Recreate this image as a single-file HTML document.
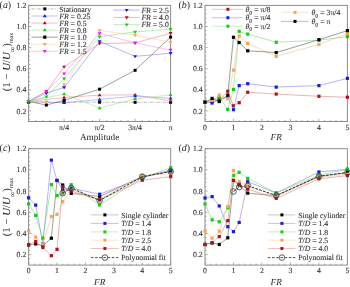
<!DOCTYPE html><html><head><meta charset="utf-8"><style>html,body{margin:0;padding:0;background:#fff;width:350px;height:287px;overflow:hidden}svg{display:block}.t,.a,.p,.yl{filter:grayscale(1);text-rendering:geometricPrecision}.t{font-family:"Liberation Serif",serif;font-size:7.75px;fill:#333;stroke:#333;stroke-width:0.12px}.a{font-family:"Liberation Serif",serif;font-size:9.2px;fill:#1e1e1e}.i{font-style:italic}.p{font-family:"Liberation Serif",serif;font-size:9.9px;fill:#1e1e1e}.yl{font-family:"Liberation Serif",serif;font-size:10.8px;fill:#262626}</style></head><body>
<svg width="350" height="287" viewBox="0 0 350 287">
<line x1="28.60" y1="119.39" x2="30.10" y2="119.39" stroke="#8c8c8c" stroke-width="0.7"/>
<line x1="28.60" y1="115.17" x2="30.10" y2="115.17" stroke="#8c8c8c" stroke-width="0.7"/>
<line x1="28.60" y1="110.95" x2="31.20" y2="110.95" stroke="#8c8c8c" stroke-width="0.7"/>
<line x1="28.60" y1="106.72" x2="30.10" y2="106.72" stroke="#8c8c8c" stroke-width="0.7"/>
<line x1="28.60" y1="102.50" x2="30.10" y2="102.50" stroke="#8c8c8c" stroke-width="0.7"/>
<line x1="28.60" y1="98.28" x2="30.10" y2="98.28" stroke="#8c8c8c" stroke-width="0.7"/>
<line x1="28.60" y1="94.06" x2="30.10" y2="94.06" stroke="#8c8c8c" stroke-width="0.7"/>
<line x1="28.60" y1="89.84" x2="31.20" y2="89.84" stroke="#8c8c8c" stroke-width="0.7"/>
<line x1="28.60" y1="85.61" x2="30.10" y2="85.61" stroke="#8c8c8c" stroke-width="0.7"/>
<line x1="28.60" y1="81.39" x2="30.10" y2="81.39" stroke="#8c8c8c" stroke-width="0.7"/>
<line x1="28.60" y1="77.17" x2="30.10" y2="77.17" stroke="#8c8c8c" stroke-width="0.7"/>
<line x1="28.60" y1="72.95" x2="30.10" y2="72.95" stroke="#8c8c8c" stroke-width="0.7"/>
<line x1="28.60" y1="68.73" x2="31.20" y2="68.73" stroke="#8c8c8c" stroke-width="0.7"/>
<line x1="28.60" y1="64.51" x2="30.10" y2="64.51" stroke="#8c8c8c" stroke-width="0.7"/>
<line x1="28.60" y1="60.28" x2="30.10" y2="60.28" stroke="#8c8c8c" stroke-width="0.7"/>
<line x1="28.60" y1="56.06" x2="30.10" y2="56.06" stroke="#8c8c8c" stroke-width="0.7"/>
<line x1="28.60" y1="51.84" x2="30.10" y2="51.84" stroke="#8c8c8c" stroke-width="0.7"/>
<line x1="28.60" y1="47.62" x2="31.20" y2="47.62" stroke="#8c8c8c" stroke-width="0.7"/>
<line x1="28.60" y1="43.40" x2="30.10" y2="43.40" stroke="#8c8c8c" stroke-width="0.7"/>
<line x1="28.60" y1="39.17" x2="30.10" y2="39.17" stroke="#8c8c8c" stroke-width="0.7"/>
<line x1="28.60" y1="34.95" x2="30.10" y2="34.95" stroke="#8c8c8c" stroke-width="0.7"/>
<line x1="28.60" y1="30.73" x2="30.10" y2="30.73" stroke="#8c8c8c" stroke-width="0.7"/>
<line x1="28.60" y1="26.51" x2="31.20" y2="26.51" stroke="#8c8c8c" stroke-width="0.7"/>
<line x1="28.60" y1="22.29" x2="30.10" y2="22.29" stroke="#8c8c8c" stroke-width="0.7"/>
<line x1="28.60" y1="18.07" x2="30.10" y2="18.07" stroke="#8c8c8c" stroke-width="0.7"/>
<line x1="28.60" y1="13.84" x2="30.10" y2="13.84" stroke="#8c8c8c" stroke-width="0.7"/>
<line x1="28.60" y1="9.62" x2="30.10" y2="9.62" stroke="#8c8c8c" stroke-width="0.7"/>
<line x1="28.60" y1="5.40" x2="31.20" y2="5.40" stroke="#8c8c8c" stroke-width="0.7"/>
<text x="26.30" y="113.55" text-anchor="end" class="t">0.2</text>
<text x="26.30" y="92.44" text-anchor="end" class="t">0.4</text>
<text x="26.30" y="71.33" text-anchor="end" class="t">0.6</text>
<text x="26.30" y="50.22" text-anchor="end" class="t">0.8</text>
<text x="26.30" y="29.11" text-anchor="end" class="t">1.0</text>
<text x="26.30" y="8.00" text-anchor="end" class="t">1.2</text>
<line x1="35.70" y1="121.50" x2="35.70" y2="120.00" stroke="#8c8c8c" stroke-width="0.7"/>
<line x1="42.80" y1="121.50" x2="42.80" y2="120.00" stroke="#8c8c8c" stroke-width="0.7"/>
<line x1="49.90" y1="121.50" x2="49.90" y2="120.00" stroke="#8c8c8c" stroke-width="0.7"/>
<line x1="57.00" y1="121.50" x2="57.00" y2="120.00" stroke="#8c8c8c" stroke-width="0.7"/>
<line x1="71.20" y1="121.50" x2="71.20" y2="120.00" stroke="#8c8c8c" stroke-width="0.7"/>
<line x1="78.30" y1="121.50" x2="78.30" y2="120.00" stroke="#8c8c8c" stroke-width="0.7"/>
<line x1="85.40" y1="121.50" x2="85.40" y2="120.00" stroke="#8c8c8c" stroke-width="0.7"/>
<line x1="92.50" y1="121.50" x2="92.50" y2="120.00" stroke="#8c8c8c" stroke-width="0.7"/>
<line x1="106.70" y1="121.50" x2="106.70" y2="120.00" stroke="#8c8c8c" stroke-width="0.7"/>
<line x1="113.80" y1="121.50" x2="113.80" y2="120.00" stroke="#8c8c8c" stroke-width="0.7"/>
<line x1="120.90" y1="121.50" x2="120.90" y2="120.00" stroke="#8c8c8c" stroke-width="0.7"/>
<line x1="128.00" y1="121.50" x2="128.00" y2="120.00" stroke="#8c8c8c" stroke-width="0.7"/>
<line x1="142.20" y1="121.50" x2="142.20" y2="120.00" stroke="#8c8c8c" stroke-width="0.7"/>
<line x1="149.30" y1="121.50" x2="149.30" y2="120.00" stroke="#8c8c8c" stroke-width="0.7"/>
<line x1="156.40" y1="121.50" x2="156.40" y2="120.00" stroke="#8c8c8c" stroke-width="0.7"/>
<line x1="163.50" y1="121.50" x2="163.50" y2="120.00" stroke="#8c8c8c" stroke-width="0.7"/>
<line x1="64.10" y1="121.50" x2="64.10" y2="118.90" stroke="#8c8c8c" stroke-width="0.7"/>
<line x1="99.60" y1="121.50" x2="99.60" y2="118.90" stroke="#8c8c8c" stroke-width="0.7"/>
<line x1="135.10" y1="121.50" x2="135.10" y2="118.90" stroke="#8c8c8c" stroke-width="0.7"/>
<line x1="170.60" y1="121.50" x2="170.60" y2="118.90" stroke="#8c8c8c" stroke-width="0.7"/>
<text x="64.10" y="129.60" text-anchor="middle" class="t">π/4</text>
<text x="99.60" y="129.60" text-anchor="middle" class="t">π/2</text>
<text x="135.10" y="129.60" text-anchor="middle" class="t">3π/4</text>
<text x="170.60" y="129.60" text-anchor="middle" class="t">π</text>
<rect x="28.60" y="5.40" width="142.00" height="116.10" fill="none" stroke="#8c8c8c" stroke-width="1"/>
<polyline points="28.60,102.19 64.10,102.19 99.60,102.19 135.10,102.29 170.60,102.29" fill="none" stroke="#8a8a8a" stroke-width="0.6" stroke-dasharray="3,1.2,1,1.2"/>
<rect x="27.10" y="100.69" width="3.00" height="3.00" fill="#000000"/>
<rect x="62.60" y="100.69" width="3.00" height="3.00" fill="#000000"/>
<rect x="98.10" y="100.69" width="3.00" height="3.00" fill="#000000"/>
<rect x="133.60" y="100.79" width="3.00" height="3.00" fill="#000000"/>
<rect x="169.10" y="100.79" width="3.00" height="3.00" fill="#000000"/>
<polyline points="28.60,101.45 64.10,102.82 99.60,99.44 135.10,96.17 170.60,98.39" fill="none" stroke="#8080f0" stroke-width="0.5"/>
<polygon points="28.60,99.46 30.58,102.64 26.62,102.64" fill="#1c1cd0"/>
<polygon points="64.10,100.83 66.08,104.01 62.12,104.01" fill="#1c1cd0"/>
<polygon points="99.60,97.46 101.58,100.63 97.62,100.63" fill="#1c1cd0"/>
<polygon points="135.10,94.19 137.08,97.36 133.12,97.36" fill="#1c1cd0"/>
<polygon points="170.60,96.40 172.58,99.58 168.62,99.58" fill="#1c1cd0"/>
<polyline points="28.60,101.45 64.10,97.54 99.60,95.11 135.10,94.90 170.60,101.02" fill="none" stroke="#e08080" stroke-width="0.5"/>
<polygon points="28.60,99.46 30.58,102.64 26.62,102.64" fill="#ac141a"/>
<polygon points="64.10,95.56 66.08,98.73 62.12,98.73" fill="#ac141a"/>
<polygon points="99.60,93.13 101.58,96.30 97.62,96.30" fill="#ac141a"/>
<polygon points="135.10,92.92 137.08,96.09 133.12,96.09" fill="#ac141a"/>
<polygon points="170.60,99.04 172.58,102.21 168.62,102.21" fill="#ac141a"/>
<polyline points="28.60,101.45 64.10,94.06 99.60,107.99 135.10,98.81 170.60,94.90" fill="none" stroke="#80e080" stroke-width="0.5"/>
<polygon points="28.60,99.46 30.58,102.64 26.62,102.64" fill="#19c819"/>
<polygon points="64.10,92.07 66.08,95.25 62.12,95.25" fill="#19c819"/>
<polygon points="99.60,106.01 101.58,109.18 97.62,109.18" fill="#19c819"/>
<polygon points="135.10,96.82 137.08,100.00 133.12,100.00" fill="#19c819"/>
<polygon points="170.60,92.92 172.58,96.09 168.62,96.09" fill="#19c819"/>
<polyline points="28.60,101.45 46.35,105.03 64.10,100.39 99.60,89.20 135.10,70.31 170.60,37.06" fill="none" stroke="#404040" stroke-width="0.5"/>
<rect x="27.10" y="99.95" width="3.00" height="3.00" fill="#000000"/>
<rect x="44.85" y="103.53" width="3.00" height="3.00" fill="#000000"/>
<rect x="62.60" y="98.89" width="3.00" height="3.00" fill="#000000"/>
<rect x="98.10" y="87.70" width="3.00" height="3.00" fill="#000000"/>
<rect x="133.60" y="68.81" width="3.00" height="3.00" fill="#000000"/>
<rect x="169.10" y="35.56" width="3.00" height="3.00" fill="#000000"/>
<polyline points="28.60,101.45 46.35,91.42 64.10,66.83 99.60,43.50 135.10,42.87 170.60,33.16" fill="none" stroke="#e07070" stroke-width="0.5"/>
<polygon points="28.60,103.43 30.58,100.26 26.62,100.26" fill="#ac141a"/>
<polygon points="46.35,93.40 48.33,90.23 44.37,90.23" fill="#ac141a"/>
<polygon points="64.10,68.81 66.08,65.64 62.12,65.64" fill="#ac141a"/>
<polygon points="99.60,45.49 101.58,42.31 97.62,42.31" fill="#ac141a"/>
<polygon points="135.10,44.85 137.08,41.68 133.12,41.68" fill="#ac141a"/>
<polygon points="170.60,35.14 172.58,31.97 168.62,31.97" fill="#ac141a"/>
<polyline points="28.60,101.45 46.35,101.76 64.10,84.77 99.60,30.41 135.10,35.16 170.60,42.34" fill="none" stroke="#f8c89a" stroke-width="0.5"/>
<polygon points="28.60,103.43 30.58,100.26 26.62,100.26" fill="#f5a55a"/>
<polygon points="46.35,103.75 48.33,100.57 44.37,100.57" fill="#f5a55a"/>
<polygon points="64.10,86.75 66.08,83.58 62.12,83.58" fill="#f5a55a"/>
<polygon points="99.60,32.40 101.58,29.22 97.62,29.22" fill="#f5a55a"/>
<polygon points="135.10,37.15 137.08,33.97 133.12,33.97" fill="#f5a55a"/>
<polygon points="170.60,44.32 172.58,41.15 168.62,41.15" fill="#f5a55a"/>
<polyline points="28.60,101.45 46.35,93.21 64.10,87.41 99.60,41.39 135.10,56.38 170.60,53.21" fill="none" stroke="#6a6af0" stroke-width="0.5"/>
<polygon points="28.60,103.43 30.58,100.26 26.62,100.26" fill="#1c1cd0"/>
<polygon points="46.35,95.20 48.33,92.02 44.37,92.02" fill="#1c1cd0"/>
<polygon points="64.10,89.39 66.08,86.22 62.12,86.22" fill="#1c1cd0"/>
<polygon points="99.60,43.37 101.58,40.20 97.62,40.20" fill="#1c1cd0"/>
<polygon points="135.10,58.36 137.08,55.19 133.12,55.19" fill="#1c1cd0"/>
<polygon points="170.60,55.20 172.58,52.02 168.62,52.02" fill="#1c1cd0"/>
<polyline points="28.60,101.45 46.35,91.42 64.10,73.58 99.60,33.48 135.10,42.87 170.60,50.05" fill="none" stroke="#f080f0" stroke-width="0.5"/>
<polygon points="28.60,103.43 30.58,100.26 26.62,100.26" fill="#e619e6"/>
<polygon points="46.35,93.40 48.33,90.23 44.37,90.23" fill="#e619e6"/>
<polygon points="64.10,75.57 66.08,72.39 62.12,72.39" fill="#e619e6"/>
<polygon points="99.60,35.46 101.58,32.28 97.62,32.28" fill="#e619e6"/>
<polygon points="135.10,44.85 137.08,41.68 133.12,41.68" fill="#e619e6"/>
<polygon points="170.60,52.03 172.58,48.86 168.62,48.86" fill="#e619e6"/>
<polyline points="28.60,101.45 46.35,96.70 64.10,78.75 99.60,36.75 135.10,31.89 170.60,29.15" fill="none" stroke="#70d870" stroke-width="0.5"/>
<polygon points="28.60,103.43 30.58,100.26 26.62,100.26" fill="#19c819"/>
<polygon points="46.35,98.68 48.33,95.51 44.37,95.51" fill="#19c819"/>
<polygon points="64.10,80.74 66.08,77.56 62.12,77.56" fill="#19c819"/>
<polygon points="99.60,38.73 101.58,35.56 97.62,35.56" fill="#19c819"/>
<polygon points="135.10,33.88 137.08,30.70 133.12,30.70" fill="#19c819"/>
<polygon points="170.60,31.13 172.58,27.96 168.62,27.96" fill="#19c819"/>
<line x1="31.40" y1="8.90" x2="57.70" y2="8.90" stroke="#8a8a8a" stroke-width="0.6" stroke-dasharray="3,1.2,1,1.2"/>
<rect x="43.30" y="7.40" width="3.00" height="3.00" fill="#000000"/>
<text x="59.20" y="11.50" class="t">Stationary</text>
<line x1="31.40" y1="16.00" x2="57.70" y2="16.00" stroke="#8080f0" stroke-width="0.5"/>
<polygon points="44.80,14.02 46.78,17.19 42.82,17.19" fill="#1c1cd0"/>
<text x="59.20" y="18.60" class="t"><tspan class="i">FR</tspan> = 0.25</text>
<line x1="31.40" y1="23.05" x2="57.70" y2="23.05" stroke="#e08080" stroke-width="0.5"/>
<polygon points="44.80,21.07 46.78,24.24 42.82,24.24" fill="#ac141a"/>
<text x="59.20" y="25.65" class="t"><tspan class="i">FR</tspan> = 0.5</text>
<line x1="31.40" y1="30.10" x2="57.70" y2="30.10" stroke="#80e080" stroke-width="0.5"/>
<polygon points="44.80,28.12 46.78,31.29 42.82,31.29" fill="#19c819"/>
<text x="59.20" y="32.70" class="t"><tspan class="i">FR</tspan> = 0.8</text>
<line x1="31.40" y1="37.15" x2="57.70" y2="37.15" stroke="#404040" stroke-width="0.5"/>
<rect x="43.20" y="35.55" width="3.20" height="3.20" fill="#000000"/>
<text x="59.20" y="39.75" class="t"><tspan class="i">FR</tspan> = 1.0</text>
<line x1="31.40" y1="44.20" x2="57.70" y2="44.20" stroke="#f8c89a" stroke-width="0.5"/>
<polygon points="44.80,46.18 46.78,43.01 42.82,43.01" fill="#f5a55a"/>
<text x="59.20" y="46.80" class="t"><tspan class="i">FR</tspan> = 1.2</text>
<line x1="31.40" y1="51.25" x2="57.70" y2="51.25" stroke="#f080f0" stroke-width="0.5"/>
<polygon points="44.80,53.23 46.78,50.06 42.82,50.06" fill="#e619e6"/>
<text x="59.20" y="53.85" class="t"><tspan class="i">FR</tspan> = 1.5</text>
<line x1="113.40" y1="10.10" x2="139.70" y2="10.10" stroke="#6a6af0" stroke-width="0.5"/>
<polygon points="126.70,12.08 128.68,8.91 124.72,8.91" fill="#1c1cd0"/>
<text x="141.40" y="12.70" class="t"><tspan class="i">FR</tspan> = 2.5</text>
<line x1="113.40" y1="17.40" x2="139.70" y2="17.40" stroke="#e07070" stroke-width="0.5"/>
<polygon points="126.70,19.38 128.68,16.21 124.72,16.21" fill="#ac141a"/>
<text x="141.40" y="20.00" class="t"><tspan class="i">FR</tspan> = 4.0</text>
<line x1="113.40" y1="24.70" x2="139.70" y2="24.70" stroke="#70d870" stroke-width="0.5"/>
<polygon points="126.70,26.68 128.68,23.51 124.72,23.51" fill="#19c819"/>
<text x="141.40" y="27.30" class="t"><tspan class="i">FR</tspan> = 5.0</text>
<text x="99.60" y="140.3" text-anchor="middle" class="a">Amplitude</text>
<line x1="205.00" y1="119.39" x2="206.50" y2="119.39" stroke="#8c8c8c" stroke-width="0.7"/>
<line x1="205.00" y1="115.17" x2="206.50" y2="115.17" stroke="#8c8c8c" stroke-width="0.7"/>
<line x1="205.00" y1="110.95" x2="207.60" y2="110.95" stroke="#8c8c8c" stroke-width="0.7"/>
<line x1="205.00" y1="106.72" x2="206.50" y2="106.72" stroke="#8c8c8c" stroke-width="0.7"/>
<line x1="205.00" y1="102.50" x2="206.50" y2="102.50" stroke="#8c8c8c" stroke-width="0.7"/>
<line x1="205.00" y1="98.28" x2="206.50" y2="98.28" stroke="#8c8c8c" stroke-width="0.7"/>
<line x1="205.00" y1="94.06" x2="206.50" y2="94.06" stroke="#8c8c8c" stroke-width="0.7"/>
<line x1="205.00" y1="89.84" x2="207.60" y2="89.84" stroke="#8c8c8c" stroke-width="0.7"/>
<line x1="205.00" y1="85.61" x2="206.50" y2="85.61" stroke="#8c8c8c" stroke-width="0.7"/>
<line x1="205.00" y1="81.39" x2="206.50" y2="81.39" stroke="#8c8c8c" stroke-width="0.7"/>
<line x1="205.00" y1="77.17" x2="206.50" y2="77.17" stroke="#8c8c8c" stroke-width="0.7"/>
<line x1="205.00" y1="72.95" x2="206.50" y2="72.95" stroke="#8c8c8c" stroke-width="0.7"/>
<line x1="205.00" y1="68.73" x2="207.60" y2="68.73" stroke="#8c8c8c" stroke-width="0.7"/>
<line x1="205.00" y1="64.51" x2="206.50" y2="64.51" stroke="#8c8c8c" stroke-width="0.7"/>
<line x1="205.00" y1="60.28" x2="206.50" y2="60.28" stroke="#8c8c8c" stroke-width="0.7"/>
<line x1="205.00" y1="56.06" x2="206.50" y2="56.06" stroke="#8c8c8c" stroke-width="0.7"/>
<line x1="205.00" y1="51.84" x2="206.50" y2="51.84" stroke="#8c8c8c" stroke-width="0.7"/>
<line x1="205.00" y1="47.62" x2="207.60" y2="47.62" stroke="#8c8c8c" stroke-width="0.7"/>
<line x1="205.00" y1="43.40" x2="206.50" y2="43.40" stroke="#8c8c8c" stroke-width="0.7"/>
<line x1="205.00" y1="39.17" x2="206.50" y2="39.17" stroke="#8c8c8c" stroke-width="0.7"/>
<line x1="205.00" y1="34.95" x2="206.50" y2="34.95" stroke="#8c8c8c" stroke-width="0.7"/>
<line x1="205.00" y1="30.73" x2="206.50" y2="30.73" stroke="#8c8c8c" stroke-width="0.7"/>
<line x1="205.00" y1="26.51" x2="207.60" y2="26.51" stroke="#8c8c8c" stroke-width="0.7"/>
<line x1="205.00" y1="22.29" x2="206.50" y2="22.29" stroke="#8c8c8c" stroke-width="0.7"/>
<line x1="205.00" y1="18.07" x2="206.50" y2="18.07" stroke="#8c8c8c" stroke-width="0.7"/>
<line x1="205.00" y1="13.84" x2="206.50" y2="13.84" stroke="#8c8c8c" stroke-width="0.7"/>
<line x1="205.00" y1="9.62" x2="206.50" y2="9.62" stroke="#8c8c8c" stroke-width="0.7"/>
<line x1="205.00" y1="5.40" x2="207.60" y2="5.40" stroke="#8c8c8c" stroke-width="0.7"/>
<text x="202.70" y="113.55" text-anchor="end" class="t">0.2</text>
<text x="202.70" y="92.44" text-anchor="end" class="t">0.4</text>
<text x="202.70" y="71.33" text-anchor="end" class="t">0.6</text>
<text x="202.70" y="50.22" text-anchor="end" class="t">0.8</text>
<text x="202.70" y="29.11" text-anchor="end" class="t">1.0</text>
<text x="202.70" y="8.00" text-anchor="end" class="t">1.2</text>
<line x1="210.70" y1="121.50" x2="210.70" y2="120.00" stroke="#8c8c8c" stroke-width="0.7"/>
<line x1="216.39" y1="121.50" x2="216.39" y2="120.00" stroke="#8c8c8c" stroke-width="0.7"/>
<line x1="222.09" y1="121.50" x2="222.09" y2="120.00" stroke="#8c8c8c" stroke-width="0.7"/>
<line x1="227.78" y1="121.50" x2="227.78" y2="120.00" stroke="#8c8c8c" stroke-width="0.7"/>
<line x1="239.18" y1="121.50" x2="239.18" y2="120.00" stroke="#8c8c8c" stroke-width="0.7"/>
<line x1="244.87" y1="121.50" x2="244.87" y2="120.00" stroke="#8c8c8c" stroke-width="0.7"/>
<line x1="250.57" y1="121.50" x2="250.57" y2="120.00" stroke="#8c8c8c" stroke-width="0.7"/>
<line x1="256.26" y1="121.50" x2="256.26" y2="120.00" stroke="#8c8c8c" stroke-width="0.7"/>
<line x1="267.66" y1="121.50" x2="267.66" y2="120.00" stroke="#8c8c8c" stroke-width="0.7"/>
<line x1="273.35" y1="121.50" x2="273.35" y2="120.00" stroke="#8c8c8c" stroke-width="0.7"/>
<line x1="279.05" y1="121.50" x2="279.05" y2="120.00" stroke="#8c8c8c" stroke-width="0.7"/>
<line x1="284.74" y1="121.50" x2="284.74" y2="120.00" stroke="#8c8c8c" stroke-width="0.7"/>
<line x1="296.14" y1="121.50" x2="296.14" y2="120.00" stroke="#8c8c8c" stroke-width="0.7"/>
<line x1="301.83" y1="121.50" x2="301.83" y2="120.00" stroke="#8c8c8c" stroke-width="0.7"/>
<line x1="307.53" y1="121.50" x2="307.53" y2="120.00" stroke="#8c8c8c" stroke-width="0.7"/>
<line x1="313.22" y1="121.50" x2="313.22" y2="120.00" stroke="#8c8c8c" stroke-width="0.7"/>
<line x1="324.62" y1="121.50" x2="324.62" y2="120.00" stroke="#8c8c8c" stroke-width="0.7"/>
<line x1="330.31" y1="121.50" x2="330.31" y2="120.00" stroke="#8c8c8c" stroke-width="0.7"/>
<line x1="336.01" y1="121.50" x2="336.01" y2="120.00" stroke="#8c8c8c" stroke-width="0.7"/>
<line x1="341.70" y1="121.50" x2="341.70" y2="120.00" stroke="#8c8c8c" stroke-width="0.7"/>
<line x1="233.48" y1="121.50" x2="233.48" y2="118.90" stroke="#8c8c8c" stroke-width="0.7"/>
<line x1="261.96" y1="121.50" x2="261.96" y2="118.90" stroke="#8c8c8c" stroke-width="0.7"/>
<line x1="290.44" y1="121.50" x2="290.44" y2="118.90" stroke="#8c8c8c" stroke-width="0.7"/>
<line x1="318.92" y1="121.50" x2="318.92" y2="118.90" stroke="#8c8c8c" stroke-width="0.7"/>
<line x1="347.40" y1="121.50" x2="347.40" y2="118.90" stroke="#8c8c8c" stroke-width="0.7"/>
<text x="205.00" y="129.60" text-anchor="middle" class="t">0</text>
<text x="233.48" y="129.60" text-anchor="middle" class="t">1</text>
<text x="261.96" y="129.60" text-anchor="middle" class="t">2</text>
<text x="290.44" y="129.60" text-anchor="middle" class="t">3</text>
<text x="318.92" y="129.60" text-anchor="middle" class="t">4</text>
<text x="347.40" y="129.60" text-anchor="middle" class="t">5</text>
<rect x="205.00" y="5.40" width="142.40" height="116.10" fill="none" stroke="#8c8c8c" stroke-width="1"/>
<polyline points="205.00,102.19 212.12,101.45 219.24,100.39 227.78,91.21 233.48,105.77 239.18,102.71 247.72,92.26 276.20,94.06 318.92,96.27 347.40,97.22" fill="none" stroke="#d06868" stroke-width="0.5"/>
<rect x="203.40" y="100.59" width="3.20" height="3.20" fill="#ac141a"/>
<rect x="210.52" y="99.85" width="3.20" height="3.20" fill="#ac141a"/>
<rect x="217.64" y="98.79" width="3.20" height="3.20" fill="#ac141a"/>
<rect x="226.18" y="89.61" width="3.20" height="3.20" fill="#ac141a"/>
<rect x="231.88" y="104.17" width="3.20" height="3.20" fill="#ac141a"/>
<rect x="237.58" y="101.11" width="3.20" height="3.20" fill="#ac141a"/>
<rect x="246.12" y="90.66" width="3.20" height="3.20" fill="#ac141a"/>
<rect x="274.60" y="92.46" width="3.20" height="3.20" fill="#ac141a"/>
<rect x="317.32" y="94.67" width="3.20" height="3.20" fill="#ac141a"/>
<rect x="345.80" y="95.62" width="3.20" height="3.20" fill="#ac141a"/>
<polyline points="205.00,102.19 212.12,103.03 219.24,98.70 227.78,97.22 233.48,109.68 239.18,85.61 247.72,83.71 276.20,87.09 318.92,85.61 347.40,78.33" fill="none" stroke="#6868e0" stroke-width="0.5"/>
<rect x="203.40" y="100.59" width="3.20" height="3.20" fill="#1c1cd0"/>
<rect x="210.52" y="101.43" width="3.20" height="3.20" fill="#1c1cd0"/>
<rect x="217.64" y="97.10" width="3.20" height="3.20" fill="#1c1cd0"/>
<rect x="226.18" y="95.62" width="3.20" height="3.20" fill="#1c1cd0"/>
<rect x="231.88" y="108.08" width="3.20" height="3.20" fill="#1c1cd0"/>
<rect x="237.58" y="84.01" width="3.20" height="3.20" fill="#1c1cd0"/>
<rect x="246.12" y="82.11" width="3.20" height="3.20" fill="#1c1cd0"/>
<rect x="274.60" y="85.49" width="3.20" height="3.20" fill="#1c1cd0"/>
<rect x="317.32" y="84.01" width="3.20" height="3.20" fill="#1c1cd0"/>
<rect x="345.80" y="76.73" width="3.20" height="3.20" fill="#1c1cd0"/>
<polyline points="205.00,102.19 212.12,100.39 219.24,97.22 227.78,109.47 233.48,89.41 239.18,31.26 247.72,34.11 276.20,42.24 318.92,40.23 347.40,36.64" fill="none" stroke="#60d060" stroke-width="0.5"/>
<rect x="203.40" y="100.59" width="3.20" height="3.20" fill="#19c819"/>
<rect x="210.52" y="98.79" width="3.20" height="3.20" fill="#19c819"/>
<rect x="217.64" y="95.62" width="3.20" height="3.20" fill="#19c819"/>
<rect x="226.18" y="107.87" width="3.20" height="3.20" fill="#19c819"/>
<rect x="231.88" y="87.81" width="3.20" height="3.20" fill="#19c819"/>
<rect x="237.58" y="29.66" width="3.20" height="3.20" fill="#19c819"/>
<rect x="246.12" y="32.51" width="3.20" height="3.20" fill="#19c819"/>
<rect x="274.60" y="40.64" width="3.20" height="3.20" fill="#19c819"/>
<rect x="317.32" y="38.63" width="3.20" height="3.20" fill="#19c819"/>
<rect x="345.80" y="35.04" width="3.20" height="3.20" fill="#19c819"/>
<polyline points="205.00,102.19 212.12,100.39 219.24,95.11 227.78,98.70 233.48,70.10 239.18,36.11 247.72,43.40 276.20,56.38 318.92,44.45 347.40,33.48" fill="none" stroke="#f2b27a" stroke-width="0.5"/>
<rect x="203.40" y="100.59" width="3.20" height="3.20" fill="#f5a55a"/>
<rect x="210.52" y="98.79" width="3.20" height="3.20" fill="#f5a55a"/>
<rect x="217.64" y="93.51" width="3.20" height="3.20" fill="#f5a55a"/>
<rect x="226.18" y="97.10" width="3.20" height="3.20" fill="#f5a55a"/>
<rect x="231.88" y="68.50" width="3.20" height="3.20" fill="#f5a55a"/>
<rect x="237.58" y="34.51" width="3.20" height="3.20" fill="#f5a55a"/>
<rect x="246.12" y="41.80" width="3.20" height="3.20" fill="#f5a55a"/>
<rect x="274.60" y="54.78" width="3.20" height="3.20" fill="#f5a55a"/>
<rect x="317.32" y="42.85" width="3.20" height="3.20" fill="#f5a55a"/>
<rect x="345.80" y="31.88" width="3.20" height="3.20" fill="#f5a55a"/>
<polyline points="205.00,102.19 212.12,98.39 219.24,101.55 227.78,95.11 233.48,37.27 239.18,42.55 247.72,50.78 276.20,52.58 318.92,39.70 347.40,30.63" fill="none" stroke="#383838" stroke-width="0.5"/>
<rect x="203.40" y="100.59" width="3.20" height="3.20" fill="#000000"/>
<rect x="210.52" y="96.79" width="3.20" height="3.20" fill="#000000"/>
<rect x="217.64" y="99.95" width="3.20" height="3.20" fill="#000000"/>
<rect x="226.18" y="93.51" width="3.20" height="3.20" fill="#000000"/>
<rect x="231.88" y="35.67" width="3.20" height="3.20" fill="#000000"/>
<rect x="237.58" y="40.95" width="3.20" height="3.20" fill="#000000"/>
<rect x="246.12" y="49.18" width="3.20" height="3.20" fill="#000000"/>
<rect x="274.60" y="50.98" width="3.20" height="3.20" fill="#000000"/>
<rect x="317.32" y="38.10" width="3.20" height="3.20" fill="#000000"/>
<rect x="345.80" y="29.03" width="3.20" height="3.20" fill="#000000"/>
<line x1="212.10" y1="9.30" x2="242.70" y2="9.30" stroke="#e08080" stroke-width="0.5"/>
<rect x="226.40" y="7.80" width="3.00" height="3.00" fill="#ac141a"/>
<text x="245.50" y="11.90" class="t"><tspan class="i">θ</tspan><tspan font-size="6" dy="2.6">0</tspan><tspan dy="-2.6"> = π/8</tspan></text>
<line x1="212.10" y1="17.75" x2="242.70" y2="17.75" stroke="#8080f0" stroke-width="0.5"/>
<rect x="226.40" y="16.25" width="3.00" height="3.00" fill="#1c1cd0"/>
<text x="245.50" y="20.35" class="t"><tspan class="i">θ</tspan><tspan font-size="6" dy="2.6">0</tspan><tspan dy="-2.6"> = π/4</tspan></text>
<line x1="212.10" y1="26.20" x2="242.70" y2="26.20" stroke="#80e080" stroke-width="0.5"/>
<rect x="226.40" y="24.70" width="3.00" height="3.00" fill="#19c819"/>
<text x="245.50" y="28.80" class="t"><tspan class="i">θ</tspan><tspan font-size="6" dy="2.6">0</tspan><tspan dy="-2.6"> = π/2</tspan></text>
<line x1="281.00" y1="12.40" x2="308.50" y2="12.40" stroke="#f8c89a" stroke-width="0.5"/>
<rect x="293.50" y="10.90" width="3.00" height="3.00" fill="#f5a55a"/>
<text x="311.50" y="15.00" class="t"><tspan class="i">θ</tspan><tspan font-size="6" dy="2.6">0</tspan><tspan dy="-2.6"> = 3π/4</tspan></text>
<line x1="281.00" y1="21.40" x2="308.50" y2="21.40" stroke="#7a7a7a" stroke-width="0.5"/>
<rect x="293.50" y="19.90" width="3.00" height="3.00" fill="#000000"/>
<text x="311.50" y="24.00" class="t"><tspan class="i">θ</tspan><tspan font-size="6" dy="2.6">0</tspan><tspan dy="-2.6"> = π</tspan></text>
<text x="276.20" y="139.6" text-anchor="middle" class="a i">FR</text>
<line x1="28.60" y1="262.98" x2="30.10" y2="262.98" stroke="#8c8c8c" stroke-width="0.7"/>
<line x1="28.60" y1="258.75" x2="30.10" y2="258.75" stroke="#8c8c8c" stroke-width="0.7"/>
<line x1="28.60" y1="254.52" x2="31.20" y2="254.52" stroke="#8c8c8c" stroke-width="0.7"/>
<line x1="28.60" y1="250.29" x2="30.10" y2="250.29" stroke="#8c8c8c" stroke-width="0.7"/>
<line x1="28.60" y1="246.05" x2="30.10" y2="246.05" stroke="#8c8c8c" stroke-width="0.7"/>
<line x1="28.60" y1="241.82" x2="30.10" y2="241.82" stroke="#8c8c8c" stroke-width="0.7"/>
<line x1="28.60" y1="237.59" x2="30.10" y2="237.59" stroke="#8c8c8c" stroke-width="0.7"/>
<line x1="28.60" y1="233.35" x2="31.20" y2="233.35" stroke="#8c8c8c" stroke-width="0.7"/>
<line x1="28.60" y1="229.12" x2="30.10" y2="229.12" stroke="#8c8c8c" stroke-width="0.7"/>
<line x1="28.60" y1="224.89" x2="30.10" y2="224.89" stroke="#8c8c8c" stroke-width="0.7"/>
<line x1="28.60" y1="220.66" x2="30.10" y2="220.66" stroke="#8c8c8c" stroke-width="0.7"/>
<line x1="28.60" y1="216.42" x2="30.10" y2="216.42" stroke="#8c8c8c" stroke-width="0.7"/>
<line x1="28.60" y1="212.19" x2="31.20" y2="212.19" stroke="#8c8c8c" stroke-width="0.7"/>
<line x1="28.60" y1="207.96" x2="30.10" y2="207.96" stroke="#8c8c8c" stroke-width="0.7"/>
<line x1="28.60" y1="203.73" x2="30.10" y2="203.73" stroke="#8c8c8c" stroke-width="0.7"/>
<line x1="28.60" y1="199.49" x2="30.10" y2="199.49" stroke="#8c8c8c" stroke-width="0.7"/>
<line x1="28.60" y1="195.26" x2="30.10" y2="195.26" stroke="#8c8c8c" stroke-width="0.7"/>
<line x1="28.60" y1="191.03" x2="31.20" y2="191.03" stroke="#8c8c8c" stroke-width="0.7"/>
<line x1="28.60" y1="186.79" x2="30.10" y2="186.79" stroke="#8c8c8c" stroke-width="0.7"/>
<line x1="28.60" y1="182.56" x2="30.10" y2="182.56" stroke="#8c8c8c" stroke-width="0.7"/>
<line x1="28.60" y1="178.33" x2="30.10" y2="178.33" stroke="#8c8c8c" stroke-width="0.7"/>
<line x1="28.60" y1="174.10" x2="30.10" y2="174.10" stroke="#8c8c8c" stroke-width="0.7"/>
<line x1="28.60" y1="169.86" x2="31.20" y2="169.86" stroke="#8c8c8c" stroke-width="0.7"/>
<line x1="28.60" y1="165.63" x2="30.10" y2="165.63" stroke="#8c8c8c" stroke-width="0.7"/>
<line x1="28.60" y1="161.40" x2="30.10" y2="161.40" stroke="#8c8c8c" stroke-width="0.7"/>
<line x1="28.60" y1="157.17" x2="30.10" y2="157.17" stroke="#8c8c8c" stroke-width="0.7"/>
<line x1="28.60" y1="152.93" x2="30.10" y2="152.93" stroke="#8c8c8c" stroke-width="0.7"/>
<line x1="28.60" y1="148.70" x2="31.20" y2="148.70" stroke="#8c8c8c" stroke-width="0.7"/>
<text x="26.30" y="257.12" text-anchor="end" class="t">0.2</text>
<text x="26.30" y="235.95" text-anchor="end" class="t">0.4</text>
<text x="26.30" y="214.79" text-anchor="end" class="t">0.6</text>
<text x="26.30" y="193.63" text-anchor="end" class="t">0.8</text>
<text x="26.30" y="172.46" text-anchor="end" class="t">1.0</text>
<text x="26.30" y="151.30" text-anchor="end" class="t">1.2</text>
<line x1="34.28" y1="265.10" x2="34.28" y2="263.60" stroke="#8c8c8c" stroke-width="0.7"/>
<line x1="39.97" y1="265.10" x2="39.97" y2="263.60" stroke="#8c8c8c" stroke-width="0.7"/>
<line x1="45.65" y1="265.10" x2="45.65" y2="263.60" stroke="#8c8c8c" stroke-width="0.7"/>
<line x1="51.34" y1="265.10" x2="51.34" y2="263.60" stroke="#8c8c8c" stroke-width="0.7"/>
<line x1="62.70" y1="265.10" x2="62.70" y2="263.60" stroke="#8c8c8c" stroke-width="0.7"/>
<line x1="68.39" y1="265.10" x2="68.39" y2="263.60" stroke="#8c8c8c" stroke-width="0.7"/>
<line x1="74.07" y1="265.10" x2="74.07" y2="263.60" stroke="#8c8c8c" stroke-width="0.7"/>
<line x1="79.76" y1="265.10" x2="79.76" y2="263.60" stroke="#8c8c8c" stroke-width="0.7"/>
<line x1="91.12" y1="265.10" x2="91.12" y2="263.60" stroke="#8c8c8c" stroke-width="0.7"/>
<line x1="96.81" y1="265.10" x2="96.81" y2="263.60" stroke="#8c8c8c" stroke-width="0.7"/>
<line x1="102.49" y1="265.10" x2="102.49" y2="263.60" stroke="#8c8c8c" stroke-width="0.7"/>
<line x1="108.18" y1="265.10" x2="108.18" y2="263.60" stroke="#8c8c8c" stroke-width="0.7"/>
<line x1="119.54" y1="265.10" x2="119.54" y2="263.60" stroke="#8c8c8c" stroke-width="0.7"/>
<line x1="125.23" y1="265.10" x2="125.23" y2="263.60" stroke="#8c8c8c" stroke-width="0.7"/>
<line x1="130.91" y1="265.10" x2="130.91" y2="263.60" stroke="#8c8c8c" stroke-width="0.7"/>
<line x1="136.60" y1="265.10" x2="136.60" y2="263.60" stroke="#8c8c8c" stroke-width="0.7"/>
<line x1="147.96" y1="265.10" x2="147.96" y2="263.60" stroke="#8c8c8c" stroke-width="0.7"/>
<line x1="153.65" y1="265.10" x2="153.65" y2="263.60" stroke="#8c8c8c" stroke-width="0.7"/>
<line x1="159.33" y1="265.10" x2="159.33" y2="263.60" stroke="#8c8c8c" stroke-width="0.7"/>
<line x1="165.02" y1="265.10" x2="165.02" y2="263.60" stroke="#8c8c8c" stroke-width="0.7"/>
<line x1="57.02" y1="265.10" x2="57.02" y2="262.50" stroke="#8c8c8c" stroke-width="0.7"/>
<line x1="85.44" y1="265.10" x2="85.44" y2="262.50" stroke="#8c8c8c" stroke-width="0.7"/>
<line x1="113.86" y1="265.10" x2="113.86" y2="262.50" stroke="#8c8c8c" stroke-width="0.7"/>
<line x1="142.28" y1="265.10" x2="142.28" y2="262.50" stroke="#8c8c8c" stroke-width="0.7"/>
<line x1="170.70" y1="265.10" x2="170.70" y2="262.50" stroke="#8c8c8c" stroke-width="0.7"/>
<text x="28.60" y="273.20" text-anchor="middle" class="t">0</text>
<text x="57.02" y="273.20" text-anchor="middle" class="t">1</text>
<text x="85.44" y="273.20" text-anchor="middle" class="t">2</text>
<text x="113.86" y="273.20" text-anchor="middle" class="t">3</text>
<text x="142.28" y="273.20" text-anchor="middle" class="t">4</text>
<text x="170.70" y="273.20" text-anchor="middle" class="t">5</text>
<rect x="28.60" y="148.70" width="142.10" height="116.40" fill="none" stroke="#8c8c8c" stroke-width="1"/>
<polyline points="28.60,244.89 35.70,243.94 42.81,245.74 51.34,238.22 57.02,180.45 62.70,185.00 71.23,193.36 99.65,196.53 142.28,176.74 170.70,171.45" fill="none" stroke="#505050" stroke-width="0.55"/>
<rect x="27.00" y="243.29" width="3.20" height="3.20" fill="#000000"/>
<rect x="34.10" y="242.34" width="3.20" height="3.20" fill="#000000"/>
<rect x="41.21" y="244.14" width="3.20" height="3.20" fill="#000000"/>
<rect x="49.74" y="236.62" width="3.20" height="3.20" fill="#000000"/>
<rect x="55.42" y="178.85" width="3.20" height="3.20" fill="#000000"/>
<rect x="61.10" y="183.40" width="3.20" height="3.20" fill="#000000"/>
<rect x="69.63" y="191.76" width="3.20" height="3.20" fill="#000000"/>
<rect x="98.05" y="194.93" width="3.20" height="3.20" fill="#000000"/>
<rect x="140.68" y="175.14" width="3.20" height="3.20" fill="#000000"/>
<rect x="169.10" y="169.85" width="3.20" height="3.20" fill="#000000"/>
<polyline points="28.60,197.80 35.70,205.10 42.81,243.72 51.34,160.13 57.02,180.45 62.70,189.65 71.23,188.17 99.65,194.20 142.28,177.80 170.70,169.86" fill="none" stroke="#6868e0" stroke-width="0.5"/>
<rect x="27.00" y="196.20" width="3.20" height="3.20" fill="#1c1cd0"/>
<rect x="34.10" y="203.50" width="3.20" height="3.20" fill="#1c1cd0"/>
<rect x="41.21" y="242.12" width="3.20" height="3.20" fill="#1c1cd0"/>
<rect x="49.74" y="158.53" width="3.20" height="3.20" fill="#1c1cd0"/>
<rect x="55.42" y="178.85" width="3.20" height="3.20" fill="#1c1cd0"/>
<rect x="61.10" y="188.05" width="3.20" height="3.20" fill="#1c1cd0"/>
<rect x="69.63" y="186.57" width="3.20" height="3.20" fill="#1c1cd0"/>
<rect x="98.05" y="192.60" width="3.20" height="3.20" fill="#1c1cd0"/>
<rect x="140.68" y="176.20" width="3.20" height="3.20" fill="#1c1cd0"/>
<rect x="169.10" y="168.26" width="3.20" height="3.20" fill="#1c1cd0"/>
<polyline points="28.60,203.83 35.70,215.37 42.81,238.12 51.34,184.57 57.02,195.58 62.70,193.14 71.23,184.68 99.65,205.00 142.28,177.80 170.70,167.75" fill="none" stroke="#60d060" stroke-width="0.5"/>
<rect x="27.00" y="202.23" width="3.20" height="3.20" fill="#19c819"/>
<rect x="34.10" y="213.77" width="3.20" height="3.20" fill="#19c819"/>
<rect x="41.21" y="236.52" width="3.20" height="3.20" fill="#19c819"/>
<rect x="49.74" y="182.97" width="3.20" height="3.20" fill="#19c819"/>
<rect x="55.42" y="193.98" width="3.20" height="3.20" fill="#19c819"/>
<rect x="61.10" y="191.54" width="3.20" height="3.20" fill="#19c819"/>
<rect x="69.63" y="183.08" width="3.20" height="3.20" fill="#19c819"/>
<rect x="98.05" y="203.40" width="3.20" height="3.20" fill="#19c819"/>
<rect x="140.68" y="176.20" width="3.20" height="3.20" fill="#19c819"/>
<rect x="169.10" y="166.15" width="3.20" height="3.20" fill="#19c819"/>
<polyline points="28.60,230.81 35.70,237.16 42.81,243.94 51.34,216.53 57.02,214.31 62.70,201.61 71.23,189.97 99.65,199.49 142.28,175.15 170.70,173.99" fill="none" stroke="#f2b27a" stroke-width="0.5"/>
<rect x="27.00" y="229.21" width="3.20" height="3.20" fill="#f5a55a"/>
<rect x="34.10" y="235.56" width="3.20" height="3.20" fill="#f5a55a"/>
<rect x="41.21" y="242.34" width="3.20" height="3.20" fill="#f5a55a"/>
<rect x="49.74" y="214.93" width="3.20" height="3.20" fill="#f5a55a"/>
<rect x="55.42" y="212.71" width="3.20" height="3.20" fill="#f5a55a"/>
<rect x="61.10" y="200.01" width="3.20" height="3.20" fill="#f5a55a"/>
<rect x="69.63" y="188.37" width="3.20" height="3.20" fill="#f5a55a"/>
<rect x="98.05" y="197.89" width="3.20" height="3.20" fill="#f5a55a"/>
<rect x="140.68" y="173.55" width="3.20" height="3.20" fill="#f5a55a"/>
<rect x="169.10" y="172.39" width="3.20" height="3.20" fill="#f5a55a"/>
<polyline points="28.60,244.89 35.70,241.50 42.81,247.53 51.34,255.68 57.02,249.33 62.70,186.79 71.23,191.03 99.65,199.92 142.28,180.23 170.70,176.64" fill="none" stroke="#d06868" stroke-width="0.5"/>
<rect x="27.00" y="243.29" width="3.20" height="3.20" fill="#ac141a"/>
<rect x="34.10" y="239.90" width="3.20" height="3.20" fill="#ac141a"/>
<rect x="41.21" y="245.93" width="3.20" height="3.20" fill="#ac141a"/>
<rect x="49.74" y="254.08" width="3.20" height="3.20" fill="#ac141a"/>
<rect x="55.42" y="247.73" width="3.20" height="3.20" fill="#ac141a"/>
<rect x="61.10" y="185.19" width="3.20" height="3.20" fill="#ac141a"/>
<rect x="69.63" y="189.43" width="3.20" height="3.20" fill="#ac141a"/>
<rect x="98.05" y="198.32" width="3.20" height="3.20" fill="#ac141a"/>
<rect x="140.68" y="178.63" width="3.20" height="3.20" fill="#ac141a"/>
<rect x="169.10" y="175.04" width="3.20" height="3.20" fill="#ac141a"/>
<polyline points="62.70,193.14 71.23,188.17 99.65,200.55 142.28,176.74 170.70,171.45" fill="none" stroke="#1a1a1a" stroke-width="0.9" stroke-dasharray="2.6,1.4"/>
<circle cx="62.70" cy="193.14" r="2.80" fill="none" stroke="#333" stroke-width="0.8"/>
<circle cx="71.23" cy="188.17" r="2.80" fill="none" stroke="#333" stroke-width="0.8"/>
<circle cx="99.65" cy="200.55" r="2.80" fill="none" stroke="#333" stroke-width="0.8"/>
<circle cx="142.28" cy="176.74" r="2.80" fill="none" stroke="#333" stroke-width="0.8"/>
<circle cx="170.70" cy="171.45" r="2.80" fill="none" stroke="#333" stroke-width="0.8"/>
<line x1="90.80" y1="214.90" x2="118.40" y2="214.90" stroke="#909090" stroke-width="0.5"/>
<rect x="103.40" y="213.40" width="3.00" height="3.00" fill="#000000"/>
<text x="121.20" y="217.50" class="t">Single cylinder</text>
<line x1="90.80" y1="223.40" x2="118.40" y2="223.40" stroke="#8080f0" stroke-width="0.5"/>
<rect x="103.40" y="221.90" width="3.00" height="3.00" fill="#1c1cd0"/>
<text x="121.20" y="226.00" class="t"><tspan class="i">T</tspan>/<tspan class="i">D</tspan> = 1.4</text>
<line x1="90.80" y1="231.90" x2="118.40" y2="231.90" stroke="#80e080" stroke-width="0.5"/>
<rect x="103.40" y="230.40" width="3.00" height="3.00" fill="#19c819"/>
<text x="121.20" y="234.50" class="t"><tspan class="i">T</tspan>/<tspan class="i">D</tspan> = 1.8</text>
<line x1="90.80" y1="240.20" x2="118.40" y2="240.20" stroke="#f8c89a" stroke-width="0.5"/>
<rect x="103.40" y="238.70" width="3.00" height="3.00" fill="#f5a55a"/>
<text x="121.20" y="242.80" class="t"><tspan class="i">T</tspan>/<tspan class="i">D</tspan> = 2.5</text>
<line x1="90.80" y1="248.50" x2="118.40" y2="248.50" stroke="#e08080" stroke-width="0.5"/>
<rect x="103.40" y="247.00" width="3.00" height="3.00" fill="#ac141a"/>
<text x="121.20" y="251.10" class="t"><tspan class="i">T</tspan>/<tspan class="i">D</tspan> = 4.0</text>
<line x1="90.80" y1="257.60" x2="118.40" y2="257.60" stroke="#222" stroke-width="0.8" stroke-dasharray="2.6,1.6"/>
<text x="121.20" y="260.20" class="t">Polynomial fit</text>
<circle cx="104.90" cy="257.60" r="2.8" fill="none" stroke="#333" stroke-width="0.8"/>
<text x="99.65" y="284.6" text-anchor="middle" class="a i">FR</text>
<line x1="205.00" y1="262.98" x2="206.50" y2="262.98" stroke="#8c8c8c" stroke-width="0.7"/>
<line x1="205.00" y1="258.75" x2="206.50" y2="258.75" stroke="#8c8c8c" stroke-width="0.7"/>
<line x1="205.00" y1="254.52" x2="207.60" y2="254.52" stroke="#8c8c8c" stroke-width="0.7"/>
<line x1="205.00" y1="250.29" x2="206.50" y2="250.29" stroke="#8c8c8c" stroke-width="0.7"/>
<line x1="205.00" y1="246.05" x2="206.50" y2="246.05" stroke="#8c8c8c" stroke-width="0.7"/>
<line x1="205.00" y1="241.82" x2="206.50" y2="241.82" stroke="#8c8c8c" stroke-width="0.7"/>
<line x1="205.00" y1="237.59" x2="206.50" y2="237.59" stroke="#8c8c8c" stroke-width="0.7"/>
<line x1="205.00" y1="233.35" x2="207.60" y2="233.35" stroke="#8c8c8c" stroke-width="0.7"/>
<line x1="205.00" y1="229.12" x2="206.50" y2="229.12" stroke="#8c8c8c" stroke-width="0.7"/>
<line x1="205.00" y1="224.89" x2="206.50" y2="224.89" stroke="#8c8c8c" stroke-width="0.7"/>
<line x1="205.00" y1="220.66" x2="206.50" y2="220.66" stroke="#8c8c8c" stroke-width="0.7"/>
<line x1="205.00" y1="216.42" x2="206.50" y2="216.42" stroke="#8c8c8c" stroke-width="0.7"/>
<line x1="205.00" y1="212.19" x2="207.60" y2="212.19" stroke="#8c8c8c" stroke-width="0.7"/>
<line x1="205.00" y1="207.96" x2="206.50" y2="207.96" stroke="#8c8c8c" stroke-width="0.7"/>
<line x1="205.00" y1="203.73" x2="206.50" y2="203.73" stroke="#8c8c8c" stroke-width="0.7"/>
<line x1="205.00" y1="199.49" x2="206.50" y2="199.49" stroke="#8c8c8c" stroke-width="0.7"/>
<line x1="205.00" y1="195.26" x2="206.50" y2="195.26" stroke="#8c8c8c" stroke-width="0.7"/>
<line x1="205.00" y1="191.03" x2="207.60" y2="191.03" stroke="#8c8c8c" stroke-width="0.7"/>
<line x1="205.00" y1="186.79" x2="206.50" y2="186.79" stroke="#8c8c8c" stroke-width="0.7"/>
<line x1="205.00" y1="182.56" x2="206.50" y2="182.56" stroke="#8c8c8c" stroke-width="0.7"/>
<line x1="205.00" y1="178.33" x2="206.50" y2="178.33" stroke="#8c8c8c" stroke-width="0.7"/>
<line x1="205.00" y1="174.10" x2="206.50" y2="174.10" stroke="#8c8c8c" stroke-width="0.7"/>
<line x1="205.00" y1="169.86" x2="207.60" y2="169.86" stroke="#8c8c8c" stroke-width="0.7"/>
<line x1="205.00" y1="165.63" x2="206.50" y2="165.63" stroke="#8c8c8c" stroke-width="0.7"/>
<line x1="205.00" y1="161.40" x2="206.50" y2="161.40" stroke="#8c8c8c" stroke-width="0.7"/>
<line x1="205.00" y1="157.17" x2="206.50" y2="157.17" stroke="#8c8c8c" stroke-width="0.7"/>
<line x1="205.00" y1="152.93" x2="206.50" y2="152.93" stroke="#8c8c8c" stroke-width="0.7"/>
<line x1="205.00" y1="148.70" x2="207.60" y2="148.70" stroke="#8c8c8c" stroke-width="0.7"/>
<text x="202.70" y="257.12" text-anchor="end" class="t">0.2</text>
<text x="202.70" y="235.95" text-anchor="end" class="t">0.4</text>
<text x="202.70" y="214.79" text-anchor="end" class="t">0.6</text>
<text x="202.70" y="193.63" text-anchor="end" class="t">0.8</text>
<text x="202.70" y="172.46" text-anchor="end" class="t">1.0</text>
<text x="202.70" y="151.30" text-anchor="end" class="t">1.2</text>
<line x1="210.70" y1="265.10" x2="210.70" y2="263.60" stroke="#8c8c8c" stroke-width="0.7"/>
<line x1="216.39" y1="265.10" x2="216.39" y2="263.60" stroke="#8c8c8c" stroke-width="0.7"/>
<line x1="222.09" y1="265.10" x2="222.09" y2="263.60" stroke="#8c8c8c" stroke-width="0.7"/>
<line x1="227.78" y1="265.10" x2="227.78" y2="263.60" stroke="#8c8c8c" stroke-width="0.7"/>
<line x1="239.18" y1="265.10" x2="239.18" y2="263.60" stroke="#8c8c8c" stroke-width="0.7"/>
<line x1="244.87" y1="265.10" x2="244.87" y2="263.60" stroke="#8c8c8c" stroke-width="0.7"/>
<line x1="250.57" y1="265.10" x2="250.57" y2="263.60" stroke="#8c8c8c" stroke-width="0.7"/>
<line x1="256.26" y1="265.10" x2="256.26" y2="263.60" stroke="#8c8c8c" stroke-width="0.7"/>
<line x1="267.66" y1="265.10" x2="267.66" y2="263.60" stroke="#8c8c8c" stroke-width="0.7"/>
<line x1="273.35" y1="265.10" x2="273.35" y2="263.60" stroke="#8c8c8c" stroke-width="0.7"/>
<line x1="279.05" y1="265.10" x2="279.05" y2="263.60" stroke="#8c8c8c" stroke-width="0.7"/>
<line x1="284.74" y1="265.10" x2="284.74" y2="263.60" stroke="#8c8c8c" stroke-width="0.7"/>
<line x1="296.14" y1="265.10" x2="296.14" y2="263.60" stroke="#8c8c8c" stroke-width="0.7"/>
<line x1="301.83" y1="265.10" x2="301.83" y2="263.60" stroke="#8c8c8c" stroke-width="0.7"/>
<line x1="307.53" y1="265.10" x2="307.53" y2="263.60" stroke="#8c8c8c" stroke-width="0.7"/>
<line x1="313.22" y1="265.10" x2="313.22" y2="263.60" stroke="#8c8c8c" stroke-width="0.7"/>
<line x1="324.62" y1="265.10" x2="324.62" y2="263.60" stroke="#8c8c8c" stroke-width="0.7"/>
<line x1="330.31" y1="265.10" x2="330.31" y2="263.60" stroke="#8c8c8c" stroke-width="0.7"/>
<line x1="336.01" y1="265.10" x2="336.01" y2="263.60" stroke="#8c8c8c" stroke-width="0.7"/>
<line x1="341.70" y1="265.10" x2="341.70" y2="263.60" stroke="#8c8c8c" stroke-width="0.7"/>
<line x1="233.48" y1="265.10" x2="233.48" y2="262.50" stroke="#8c8c8c" stroke-width="0.7"/>
<line x1="261.96" y1="265.10" x2="261.96" y2="262.50" stroke="#8c8c8c" stroke-width="0.7"/>
<line x1="290.44" y1="265.10" x2="290.44" y2="262.50" stroke="#8c8c8c" stroke-width="0.7"/>
<line x1="318.92" y1="265.10" x2="318.92" y2="262.50" stroke="#8c8c8c" stroke-width="0.7"/>
<line x1="347.40" y1="265.10" x2="347.40" y2="262.50" stroke="#8c8c8c" stroke-width="0.7"/>
<text x="205.00" y="273.20" text-anchor="middle" class="t">0</text>
<text x="233.48" y="273.20" text-anchor="middle" class="t">1</text>
<text x="261.96" y="273.20" text-anchor="middle" class="t">2</text>
<text x="290.44" y="273.20" text-anchor="middle" class="t">3</text>
<text x="318.92" y="273.20" text-anchor="middle" class="t">4</text>
<text x="347.40" y="273.20" text-anchor="middle" class="t">5</text>
<rect x="205.00" y="148.70" width="142.40" height="116.40" fill="none" stroke="#8c8c8c" stroke-width="1"/>
<polyline points="205.00,244.47 212.12,242.88 219.24,244.47 227.78,237.80 233.48,180.45 239.18,185.00 247.72,193.14 276.20,195.79 318.92,176.32 347.40,172.51" fill="none" stroke="#505050" stroke-width="0.55"/>
<rect x="203.40" y="242.87" width="3.20" height="3.20" fill="#000000"/>
<rect x="210.52" y="241.28" width="3.20" height="3.20" fill="#000000"/>
<rect x="217.64" y="242.87" width="3.20" height="3.20" fill="#000000"/>
<rect x="226.18" y="236.20" width="3.20" height="3.20" fill="#000000"/>
<rect x="231.88" y="178.85" width="3.20" height="3.20" fill="#000000"/>
<rect x="237.58" y="183.40" width="3.20" height="3.20" fill="#000000"/>
<rect x="246.12" y="191.54" width="3.20" height="3.20" fill="#000000"/>
<rect x="274.60" y="194.19" width="3.20" height="3.20" fill="#000000"/>
<rect x="317.32" y="174.72" width="3.20" height="3.20" fill="#000000"/>
<rect x="345.80" y="170.91" width="3.20" height="3.20" fill="#000000"/>
<polyline points="205.00,198.01 212.12,196.64 219.24,205.95 227.78,226.69 233.48,231.66 239.18,222.46 247.72,181.72 276.20,193.14 318.92,171.98 347.40,169.33" fill="none" stroke="#6868e0" stroke-width="0.5"/>
<rect x="203.40" y="196.41" width="3.20" height="3.20" fill="#1c1cd0"/>
<rect x="210.52" y="195.04" width="3.20" height="3.20" fill="#1c1cd0"/>
<rect x="217.64" y="204.35" width="3.20" height="3.20" fill="#1c1cd0"/>
<rect x="226.18" y="225.09" width="3.20" height="3.20" fill="#1c1cd0"/>
<rect x="231.88" y="230.06" width="3.20" height="3.20" fill="#1c1cd0"/>
<rect x="237.58" y="220.86" width="3.20" height="3.20" fill="#1c1cd0"/>
<rect x="246.12" y="180.12" width="3.20" height="3.20" fill="#1c1cd0"/>
<rect x="274.60" y="191.54" width="3.20" height="3.20" fill="#1c1cd0"/>
<rect x="317.32" y="170.38" width="3.20" height="3.20" fill="#1c1cd0"/>
<rect x="345.80" y="167.73" width="3.20" height="3.20" fill="#1c1cd0"/>
<polyline points="205.00,203.94 212.12,219.81 219.24,221.82 227.78,207.85 233.48,175.47 239.18,172.30 247.72,178.33 276.20,192.93 318.92,175.15 347.40,169.33" fill="none" stroke="#60d060" stroke-width="0.5"/>
<rect x="203.40" y="202.34" width="3.20" height="3.20" fill="#19c819"/>
<rect x="210.52" y="218.21" width="3.20" height="3.20" fill="#19c819"/>
<rect x="217.64" y="220.22" width="3.20" height="3.20" fill="#19c819"/>
<rect x="226.18" y="206.25" width="3.20" height="3.20" fill="#19c819"/>
<rect x="231.88" y="173.87" width="3.20" height="3.20" fill="#19c819"/>
<rect x="237.58" y="170.70" width="3.20" height="3.20" fill="#19c819"/>
<rect x="246.12" y="176.73" width="3.20" height="3.20" fill="#19c819"/>
<rect x="274.60" y="191.33" width="3.20" height="3.20" fill="#19c819"/>
<rect x="317.32" y="173.55" width="3.20" height="3.20" fill="#19c819"/>
<rect x="345.80" y="167.73" width="3.20" height="3.20" fill="#19c819"/>
<polyline points="205.00,231.03 212.12,238.12 219.24,231.24 227.78,206.58 233.48,170.39 239.18,181.72 247.72,185.74 276.20,196.32 318.92,177.27 347.40,174.10" fill="none" stroke="#f2b27a" stroke-width="0.5"/>
<rect x="203.40" y="229.43" width="3.20" height="3.20" fill="#f5a55a"/>
<rect x="210.52" y="236.52" width="3.20" height="3.20" fill="#f5a55a"/>
<rect x="217.64" y="229.64" width="3.20" height="3.20" fill="#f5a55a"/>
<rect x="226.18" y="204.98" width="3.20" height="3.20" fill="#f5a55a"/>
<rect x="231.88" y="168.79" width="3.20" height="3.20" fill="#f5a55a"/>
<rect x="237.58" y="180.12" width="3.20" height="3.20" fill="#f5a55a"/>
<rect x="246.12" y="184.14" width="3.20" height="3.20" fill="#f5a55a"/>
<rect x="274.60" y="194.72" width="3.20" height="3.20" fill="#f5a55a"/>
<rect x="317.32" y="175.67" width="3.20" height="3.20" fill="#f5a55a"/>
<rect x="345.80" y="172.50" width="3.20" height="3.20" fill="#f5a55a"/>
<polyline points="205.00,244.47 212.12,242.88 219.24,236.63 227.78,220.66 233.48,180.45 239.18,184.36 247.72,189.23 276.20,198.33 318.92,178.86 347.40,175.58" fill="none" stroke="#d06868" stroke-width="0.5"/>
<rect x="203.40" y="242.87" width="3.20" height="3.20" fill="#ac141a"/>
<rect x="210.52" y="241.28" width="3.20" height="3.20" fill="#ac141a"/>
<rect x="217.64" y="235.03" width="3.20" height="3.20" fill="#ac141a"/>
<rect x="226.18" y="219.06" width="3.20" height="3.20" fill="#ac141a"/>
<rect x="231.88" y="178.85" width="3.20" height="3.20" fill="#ac141a"/>
<rect x="237.58" y="182.76" width="3.20" height="3.20" fill="#ac141a"/>
<rect x="246.12" y="187.63" width="3.20" height="3.20" fill="#ac141a"/>
<rect x="274.60" y="196.73" width="3.20" height="3.20" fill="#ac141a"/>
<rect x="317.32" y="177.26" width="3.20" height="3.20" fill="#ac141a"/>
<rect x="345.80" y="173.98" width="3.20" height="3.20" fill="#ac141a"/>
<polyline points="233.48,191.56 239.18,187.11 247.72,185.74 276.20,195.47 318.92,176.32 347.40,172.51" fill="none" stroke="#1a1a1a" stroke-width="0.9" stroke-dasharray="2.6,1.4"/>
<circle cx="233.48" cy="191.56" r="2.80" fill="none" stroke="#333" stroke-width="0.8"/>
<circle cx="239.18" cy="187.11" r="2.80" fill="none" stroke="#333" stroke-width="0.8"/>
<circle cx="247.72" cy="185.74" r="2.80" fill="none" stroke="#333" stroke-width="0.8"/>
<circle cx="276.20" cy="195.47" r="2.80" fill="none" stroke="#333" stroke-width="0.8"/>
<circle cx="318.92" cy="176.32" r="2.80" fill="none" stroke="#333" stroke-width="0.8"/>
<circle cx="347.40" cy="172.51" r="2.80" fill="none" stroke="#333" stroke-width="0.8"/>
<line x1="267.80" y1="214.90" x2="295.40" y2="214.90" stroke="#909090" stroke-width="0.5"/>
<rect x="280.40" y="213.40" width="3.00" height="3.00" fill="#000000"/>
<text x="298.20" y="217.50" class="t">Single cylinder</text>
<line x1="267.80" y1="223.40" x2="295.40" y2="223.40" stroke="#8080f0" stroke-width="0.5"/>
<rect x="280.40" y="221.90" width="3.00" height="3.00" fill="#1c1cd0"/>
<text x="298.20" y="226.00" class="t"><tspan class="i">T</tspan>/<tspan class="i">D</tspan> = 1.4</text>
<line x1="267.80" y1="231.90" x2="295.40" y2="231.90" stroke="#80e080" stroke-width="0.5"/>
<rect x="280.40" y="230.40" width="3.00" height="3.00" fill="#19c819"/>
<text x="298.20" y="234.50" class="t"><tspan class="i">T</tspan>/<tspan class="i">D</tspan> = 1.8</text>
<line x1="267.80" y1="240.20" x2="295.40" y2="240.20" stroke="#f8c89a" stroke-width="0.5"/>
<rect x="280.40" y="238.70" width="3.00" height="3.00" fill="#f5a55a"/>
<text x="298.20" y="242.80" class="t"><tspan class="i">T</tspan>/<tspan class="i">D</tspan> = 2.5</text>
<line x1="267.80" y1="248.50" x2="295.40" y2="248.50" stroke="#e08080" stroke-width="0.5"/>
<rect x="280.40" y="247.00" width="3.00" height="3.00" fill="#ac141a"/>
<text x="298.20" y="251.10" class="t"><tspan class="i">T</tspan>/<tspan class="i">D</tspan> = 4.0</text>
<line x1="267.80" y1="257.60" x2="295.40" y2="257.60" stroke="#222" stroke-width="0.8" stroke-dasharray="2.6,1.6"/>
<text x="298.20" y="260.20" class="t">Polynomial fit</text>
<circle cx="281.90" cy="257.60" r="2.8" fill="none" stroke="#333" stroke-width="0.8"/>
<text x="276.20" y="284.6" text-anchor="middle" class="a i">FR</text>
<text x="-0.4" y="8.2" class="p">(<tspan class="i">a</tspan>)</text>
<text x="178.5" y="8.3" class="p">(<tspan class="i">b</tspan>)</text>
<text x="-0.4" y="151.0" class="p">(<tspan class="i">c</tspan>)</text>
<text x="178.5" y="151.0" class="p">(<tspan class="i">d</tspan>)</text>
<text transform="translate(9.6,62.0) rotate(-90)" text-anchor="middle" class="yl">(1 − <tspan class="i">U</tspan>/<tspan class="i">U</tspan><tspan font-size="7.6" dy="5.0">∞</tspan><tspan dy="-5.0">)</tspan><tspan font-size="6" dy="3.6">max</tspan></text>
<text transform="translate(9.6,207.0) rotate(-90)" text-anchor="middle" class="yl">(1 − <tspan class="i">U</tspan>/<tspan class="i">U</tspan><tspan font-size="7.6" dy="5.0">∞</tspan><tspan dy="-5.0">)</tspan><tspan font-size="6" dy="3.6">max</tspan></text>
</svg></body></html>
